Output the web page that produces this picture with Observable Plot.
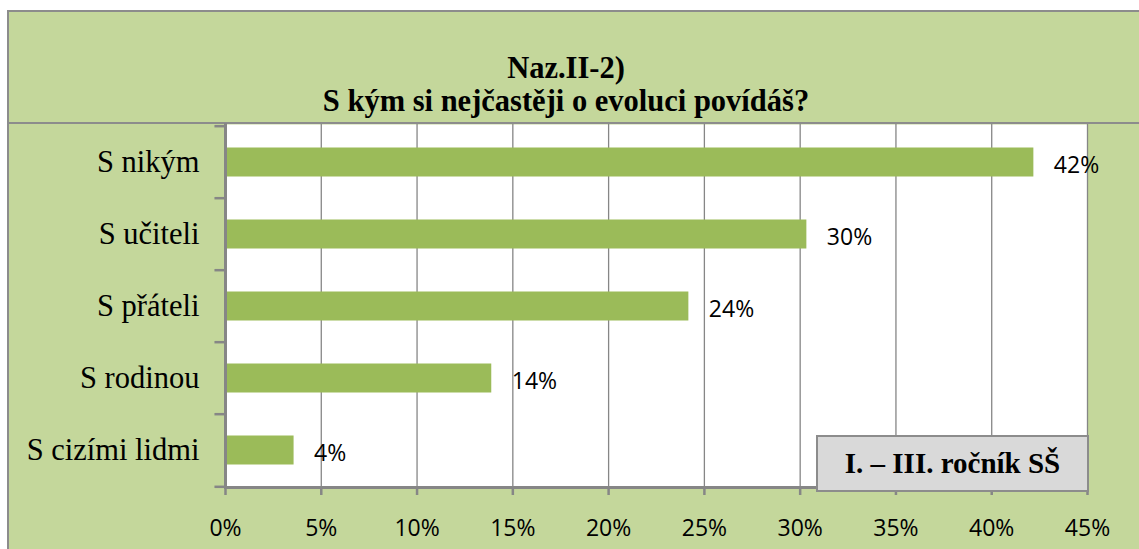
<!DOCTYPE html>
<html>
<head>
<meta charset="utf-8">
<script src="https://cdn.jsdelivr.net/npm/d3@7"></script>
<script src="https://cdn.jsdelivr.net/npm/@observablehq/plot@0.6"></script>
<style>
  html, body { margin: 0; padding: 0; background: #ffffff; }
  #wrap { position: relative; width: 1139px; height: 549px; overflow: hidden; background: #ffffff; }
  #panel { position: absolute; left: 7px; top: 10px; width: 1150px; height: 560px; background: #c4d79b; border: 2px solid #8c8c8c; box-sizing: border-box; }
  #titlebox { position: absolute; left: 7px; top: 10px; width: 1150px; height: 114px; border: 2px solid #8c8c8c; box-sizing: border-box; background: #c4d79b; }
  #title { position: absolute; left: 0; top: 52px; width: 1132px; text-align: center; font-family: "Liberation Serif", "Times New Roman", serif; font-weight: bold; font-size: 30.5px; line-height: 33px; color: #000; }
  #chart { position: absolute; left: 0; top: 123px; }
  #legend { position: absolute; left: 816px; top: 435px; width: 273px; height: 57px; box-sizing: border-box; background: #d9d9d9; border: 2px solid #8c8c8c; font-family: "Liberation Serif", "Times New Roman", serif; font-weight: bold; font-size: 29px; line-height: 53px; text-align: center; color: #000; }
  #chart svg g[aria-label="y-axis tick label"], #chart svg g[aria-label="y-axis tick label"] text { font-family: "Liberation Serif", "Times New Roman", serif !important; }
  #chart svg g[aria-label="x-axis tick label"], #chart svg g[aria-label="x-axis tick label"] text,
  #chart svg g[aria-label="text"], #chart svg g[aria-label="text"] text { font-family: "Open Sans", sans-serif !important; }
</style>
</head>
<body>
<div id="wrap">
  <div id="panel"></div>
  <div id="titlebox"></div>
  <div id="title"></div>
  <div id="chart"></div>
  <div id="legend"></div>
</div>
<script>
// ---- data ----
const titleLines = ["Naz.II-2)", "S kým si nejčastěji o evoluci povídáš?"];
const legendLabel = "I. – III. ročník SŠ";
const categories = ["S nikým", "S učiteli", "S přáteli", "S rodinou", "S cizími lidmi"];
const values = [0.422, 0.3035, 0.2419, 0.139, 0.0358];
const valueLabels = ["42%", "30%", "24%", "14%", "4%"];
const xTicks = [0, 0.05, 0.10, 0.15, 0.20, 0.25, 0.30, 0.35, 0.40, 0.45];

const data = categories.map((c, i) => ({category: c, value: values[i], label: valueLabels[i]}));

document.getElementById("title").innerHTML = titleLines.join("<br>");
document.getElementById("legend").textContent = legendLabel;

const W = 1139, H = 426;
const mL = 225, mR = 52, mT = 1, mB = 62;
const band = (H - mT - mB) / categories.length;
const gray = "#868686";
const green = "#9bbb59";
const sans = "Open Sans";
const serif = "Liberation Serif";

const chart = Plot.plot({
  width: W,
  height: H,
  marginLeft: mL,
  marginRight: mR,
  marginTop: mT,
  marginBottom: mB,
  style: {background: "transparent", color: "#000", overflow: "visible"},
  x: {domain: [0, 0.45]},
  y: {domain: categories, padding: 0},
  marks: [
    Plot.frame({fill: "white", stroke: null}),
    Plot.gridX(xTicks, {stroke: gray, strokeOpacity: 1, strokeWidth: 1.3}),
    Plot.barX(data, {x: "value", y: "category", fill: green, insetTop: 21.5, insetBottom: 21.5}),
    Plot.text(data, {x: "value", y: "category", text: "label", textAnchor: "start", dx: 20, dy: 3, fontSize: 23, fontFamily: sans, fill: "#000"}),
    // boundary ticks on the category axis
    Plot.ruleY(categories, {y: d => d, dy: -band / 2, x1: -0.0055, x2: 0, stroke: gray, strokeWidth: 2.5}),
    Plot.ruleY([categories[categories.length - 1]], {y: d => d, dy: band / 2, x1: -0.0055, x2: 0, stroke: gray, strokeWidth: 2.5}),
    Plot.frame({anchor: "left", stroke: gray, strokeWidth: 3}),
    Plot.frame({anchor: "bottom", stroke: gray, strokeWidth: 3}),
    Plot.axisY({tickSize: 0, tickPadding: 26, fontSize: 30.5, fontFamily: serif, label: null}),
    Plot.axisX(xTicks, {tickSize: 8, tickPadding: 24, tickFormat: d3.format(".0%"), fontSize: 23, fontFamily: sans, stroke: gray, strokeWidth: 2.5, label: null})
  ]
});
document.getElementById("chart").appendChild(chart);
</script>
</body>
</html>
